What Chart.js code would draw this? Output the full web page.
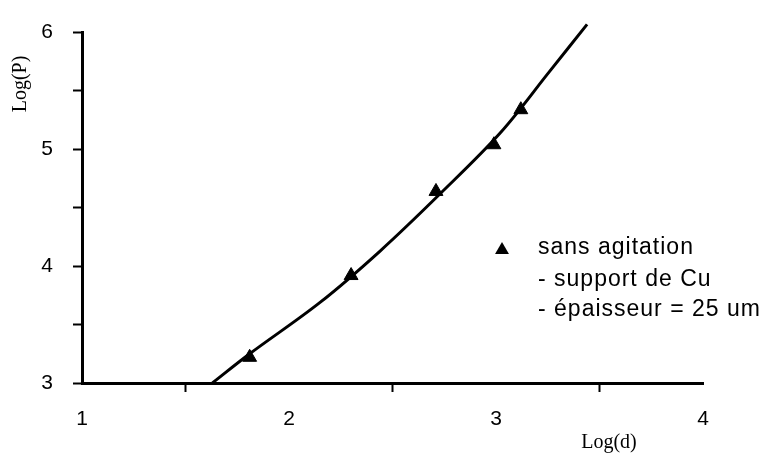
<!DOCTYPE html>
<html>
<head>
<meta charset="utf-8">
<script src="https://cdn.jsdelivr.net/npm/chart.js@4/dist/chart.umd.min.js"></script>
<style>
html,body{margin:0;padding:0;background:#fff;}
#wrap{width:779px;height:460px;}
</style>
</head>
<body>
<div id="wrap"><canvas id="c" width="779" height="460"></canvas></div>
<script>
// ---- data ----
const xTitle = "Log(d)";
const yTitle = "Log(P)";
const pointX = [1.81, 2.30, 2.71, 2.99, 3.12];
const pointY = [3.22, 3.92, 4.64, 5.04, 5.34];
const curveX = [1.63, 1.81, 2.15, 2.44, 2.73, 3.02, 3.26, 3.44];
const curveY = [3.00, 3.25, 3.69, 4.13, 4.62, 5.14, 5.67, 6.07];
const xTicks = [1, 2, 3, 4];
const yTicks = [3, 4, 5, 6];
const legendLines = ["sans agitation", "- support de Cu", "- épaisseur = 25 um"];

const sans = "'Liberation Sans', Arial, sans-serif";
const serif = "'Liberation Serif', 'Times New Roman', serif";

const annot = {
  id: 'annot',
  afterDraw(chart) {
    const ctx = chart.ctx;
    ctx.save();
    ctx.fillStyle = '#000';
    // axis titles
    ctx.font = "20px " + serif;
    ctx.textAlign = 'center';
    ctx.textBaseline = 'middle';
    ctx.fillText(xTitle, 609, 443);
    ctx.save();
    ctx.translate(21, 84);
    ctx.rotate(-Math.PI / 2);
    ctx.fillText(yTitle, 0, 0);
    ctx.restore();
    // legend
    const tx = 502, ty = 250, r = 8;
    ctx.beginPath();
    ctx.moveTo(tx, ty - r);
    ctx.lineTo(tx + r * 0.87, ty + r * 0.5);
    ctx.lineTo(tx - r * 0.87, ty + r * 0.5);
    ctx.closePath();
    ctx.fill();
    ctx.font = "23px " + sans;
    if ('letterSpacing' in ctx) ctx.letterSpacing = '1px';
    ctx.textAlign = 'left';
    ctx.textBaseline = 'alphabetic';
    ctx.fillText(legendLines[0], 538, 254);
    ctx.fillText(legendLines[1], 538, 286);
    ctx.fillText(legendLines[2], 538, 316);
    ctx.restore();
  }
};

new Chart(document.getElementById('c'), {
  type: 'scatter',
  data: {
    datasets: [
      {
        type: 'line',
        data: curveX.map((x, i) => ({x: x, y: curveY[i]})),
        borderColor: '#000',
        borderWidth: 3,
        pointRadius: 0,
        tension: 0.35,
        fill: false,
        clip: false
      },
      {
        data: pointX.map((x, i) => ({x: x, y: pointY[i]})),
        pointStyle: 'triangle',
        pointRadius: 8,
        backgroundColor: '#000',
        borderColor: '#000',
        borderWidth: 1
      }
    ]
  },
  options: {
    responsive: false,
    animation: false,
    events: [],
    layout: {padding: {top: 22, right: 76, left: 0, bottom: 0}},
    plugins: {legend: {display: false}, tooltip: {enabled: false}},
    scales: {
      x: {
        type: 'linear',
        min: xTicks[0], max: xTicks[xTicks.length - 1],
        afterFit(s) { s.height = 77; },
        border: {color: '#000', width: 3},
        grid: {
          drawOnChartArea: false,
          drawTicks: true,
          tickLength: 9,
          tickWidth: 2,
          tickColor: c => (c.tick && c.tick.value % 1 !== 0) ? '#000' : 'rgba(0,0,0,0)'
        },
        ticks: {
          stepSize: 0.5,
          autoSkip: false,
          maxRotation: 0,
          padding: 15,
          color: '#000',
          font: {family: sans, size: 21},
          callback: v => xTicks.includes(v) ? String(v) : ''
        }
      },
      y: {
        type: 'linear',
        min: yTicks[0], max: yTicks[yTicks.length - 1],
        afterFit(s) { s.width = 82; },
        border: {color: '#000', width: 3},
        grid: {
          drawOnChartArea: false,
          drawTicks: true,
          tickLength: 9,
          tickWidth: 2,
          tickColor: '#000'
        },
        ticks: {
          stepSize: 0.5,
          autoSkip: false,
          padding: 20,
          color: '#000',
          font: {family: sans, size: 21},
          callback: v => yTicks.includes(v) ? String(v) : ''
        }
      }
    }
  },
  plugins: [annot]
});
</script>
</body>
</html>
